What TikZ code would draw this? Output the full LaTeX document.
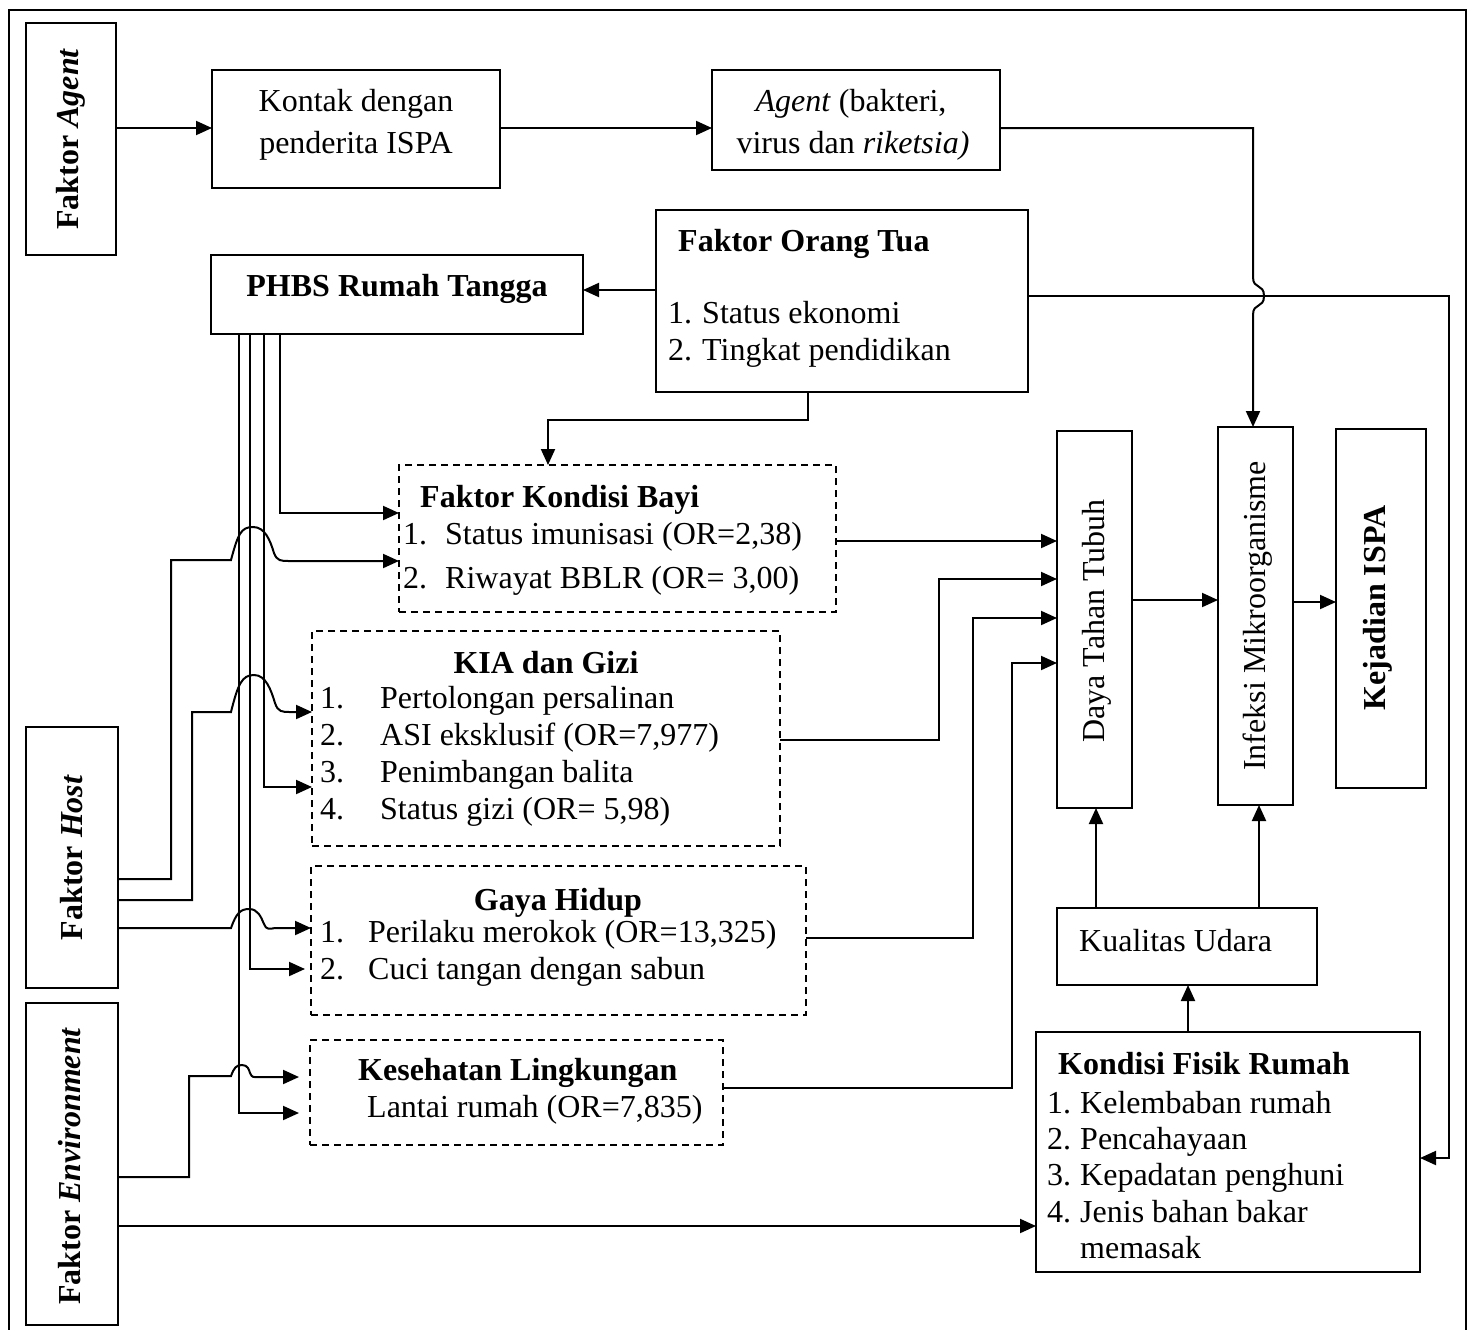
\documentclass[tikz,border=0pt]{standalone}
\usepackage{fontspec}
\setmainfont{Liberation Serif}
\usetikzlibrary{arrows.meta}
\newcommand\bigfs{\fontsize{32}{37}\selectfont}
\begin{document}
\begin{tikzpicture}[x=1pt,y=-1pt,
  box/.style={draw, line width=2pt, inner sep=0pt, outer sep=0pt},
  dbox/.style={box, line width=1.8pt, dash pattern=on 7pt off 5pt},
  ln/.style={line width=2pt},
  arr/.style={line width=2pt, -{Triangle[length=16pt,width=14pt]}},
  txt/.style={inner sep=0pt, font=\bigfs},
  bl/.style={txt, anchor=base west},
  bc/.style={txt, anchor=base}]
\useasboundingbox (0,0) rectangle (1470,1330);
% outer frame
\draw[ln] (9,1330) -- (9,10) -- (1466,10) -- (1466,1330);
% boxes
\node[box, minimum width=90pt, minimum height=232pt] (agentF) at (71,139) {};
\node[box, minimum width=288pt, minimum height=118pt] (kontak) at (356,129) {};
\node[box, minimum width=288pt, minimum height=100pt] (agentB) at (856,120) {};
\node[box, minimum width=372pt, minimum height=79pt] (phbs) at (397,294.5) {};
\node[box, minimum width=372pt, minimum height=182pt] (ortu) at (842,301) {};
\node[dbox, minimum width=437pt, minimum height=147pt] (bayi) at (617.5,538.5) {};
\node[dbox, minimum width=468pt, minimum height=215pt] (kia) at (546,738.5) {};
\node[dbox, minimum width=495pt, minimum height=149pt] (gaya) at (558.5,940.5) {};
\node[dbox, minimum width=413pt, minimum height=105pt] (kesling) at (516.5,1092.5) {};
\node[box, minimum width=92pt, minimum height=261pt] (host) at (72,857.5) {};
\node[box, minimum width=92pt, minimum height=322pt] (env) at (72,1164) {};
\node[box, minimum width=75pt, minimum height=377pt] (daya) at (1094.5,619.5) {};
\node[box, minimum width=75pt, minimum height=378pt] (infeksi) at (1255.5,616) {};
\node[box, minimum width=90pt, minimum height=359pt] (kejadian) at (1381,608.5) {};
\node[box, minimum width=260pt, minimum height=77pt] (udara) at (1187,946.5) {};
\node[box, minimum width=384pt, minimum height=240pt] (fisik) at (1228,1152) {};
% rotated texts
\node[txt, rotate=90] (tAgentF) at (agentF) {\textbf{Faktor \textit{Agent}}};
\node[txt, rotate=90] (tHost) at (host) {\textbf{Faktor \textit{Host}}};
\node[txt, rotate=90] (tEnv) at (70,1166) {\textbf{Faktor \textit{Environment}}};
\node[txt, rotate=90] (tDaya) at (1097,621) {Daya Tahan Tubuh};
\node[txt, rotate=90] (tInf) at (1258,616) {Infeksi Mikroorganisme};
\node[txt, rotate=90] (tKej) at (1378,608) {\textbf{Kejadian ISPA}};
% top texts
\node[bc] (tK1) at (356,111) {Kontak dengan};
\node[bc] (tK2) at (356,153) {penderita ISPA};
\node[bc] (tA1) at (851,111) {\textit{Agent} (bakteri,};
\node[bc] (tA2) at (853,153) {virus dan \textit{riketsia)}};
\node[bc] (tP) at (397,296) {\textbf{PHBS Rumah Tangga}};
% orang tua
\node[bl] (tO0) at (678,251) {\textbf{Faktor Orang Tua}};
\node[bl] (tO1n) at (668,323) {1.};
\node[bl] (tO1) at (702,323) {Status ekonomi};
\node[bl] (tO2n) at (668,360) {2.};
\node[bl] (tO2) at (702,360) {Tingkat pendidikan};
% bayi
\node[bl] (tB0) at (420,507) {\textbf{Faktor Kondisi Bayi}};
\node[bl] (tB1n) at (403,544) {1.};
\node[bl] (tB1) at (445,544) {Status imunisasi (OR=2,38)};
\node[bl] (tB2n) at (403,588) {2.};
\node[bl] (tB2) at (445,588) {Riwayat BBLR (OR= 3,00)};
% kia
\node[bc] (tKI0) at (546,673) {\textbf{KIA dan Gizi}};
\node[bl] (tKI1n) at (320,708) {1.};
\node[bl] (tKI1) at (380,708) {Pertolongan persalinan};
\node[bl] (tKI2n) at (320,745) {2.};
\node[bl] (tKI2) at (380,745) {ASI eksklusif (OR=7,977)};
\node[bl] (tKI3n) at (320,782) {3.};
\node[bl] (tKI3) at (380,782) {Penimbangan balita};
\node[bl] (tKI4n) at (320,819) {4.};
\node[bl] (tKI4) at (380,819) {Status gizi (OR= 5,98)};
% gaya hidup
\node[bc] (tG0) at (558,910) {\textbf{Gaya Hidup}};
\node[bl] (tG1n) at (320,942) {1.};
\node[bl] (tG1) at (368,942) {Perilaku merokok (OR=13,325)};
\node[bl] (tG2n) at (320,979) {2.};
\node[bl] (tG2) at (368,979) {Cuci tangan dengan sabun};
% kesehatan lingkungan
\node[bl] (tL0) at (358,1080) {\textbf{Kesehatan Lingkungan}};
\node[bl] (tL1) at (367,1117) {Lantai rumah (OR=7,835)};
% kualitas udara
\node[bl] (tU) at (1079,951) {Kualitas Udara};
% kondisi fisik
\node[bl] (tF0) at (1058,1074) {\textbf{Kondisi Fisik Rumah}};
\node[bl] (tF1n) at (1047,1113) {1.};
\node[bl] (tF1) at (1080,1113) {Kelembaban rumah};
\node[bl] (tF2n) at (1047,1149) {2.};
\node[bl] (tF2) at (1080,1149) {Pencahayaan};
\node[bl] (tF3n) at (1047,1185) {3.};
\node[bl] (tF3) at (1080,1185) {Kepadatan penghuni};
\node[bl] (tF4n) at (1047,1222) {4.};
\node[bl] (tF4) at (1080,1222) {Jenis bahan bakar};
\node[bl] (tF5) at (1080,1258) {memasak};
% top connectors
\draw[arr] (agentF.east |- 0,128) -- (kontak.west |- 0,128);
\draw[arr] (kontak.east |- 0,128) -- (agentB.west |- 0,128);
\draw[arr] (agentB.east |- 0,128) -- (1253,128) -- (1253,277)
  .. controls (1253,290) and (1264,283) .. (1264,296)
  .. controls (1264,309) and (1253,302) .. (1253,315)
  -- (infeksi.north -| 1253,0);
% orang tua connectors
\draw[arr] (ortu.west |- 0,290) -- (phbs.east |- 0,290);
\draw[arr] (ortu.east |- 0,296) -| (1449,1158) -- (fisik.east |- 0,1158);
\draw[arr] (ortu.south -| 808,0) -- (808,420) -| (bayi.north -| 548,0);
% PHBS bundle
\draw[arr] (phbs.south -| 280,0) |- (bayi.west |- 0,513);
\draw[arr] (phbs.south -| 264,0) |- (kia.west |- 0,787);
\draw[arr, shorten >=6pt] (phbs.south -| 250,0) |- (gaya.west |- 0,969);
\draw[arr, shorten >=11pt] (phbs.south -| 239,0) |- (kesling.west |- 0,1113);
% host connectors
\draw[arr] (host.east |- 0,879) -| (171,560) -- (231,560)
  .. controls (238,534) and (241,527) .. (253,527)
  .. controls (265,527) and (270,540) .. (274,553)
  .. controls (277,561) and (281,561) .. (289,561)
  -- (bayi.west |- 0,561);
\draw[arr] (host.east |- 0,900) -| (192,712) -- (231,712)
  .. controls (238,684) and (242,675) .. (254,675)
  .. controls (266,675) and (271,690) .. (275,703)
  .. controls (278,712) and (282,712) .. (290,712)
  -- (kia.west |- 0,712);
\draw[arr] (host.east |- 0,928) -- (231,928)
  .. controls (236,914) and (240,909) .. (249,909)
  .. controls (258,909) and (261,917) .. (264,924)
  .. controls (266,930) and (270,929) .. (275,928)
  -- (gaya.west |- 0,928);
% environment connectors
\draw[arr, shorten >=11pt] (env.east |- 0,1177) -| (189,1076) -- (231,1076)
  .. controls (234,1068) and (236,1065) .. (242,1065)
  .. controls (248,1065) and (249,1070) .. (250,1073)
  .. controls (252,1078) and (254,1077) .. (258,1077)
  -- (kesling.west |- 0,1077);
\draw[arr] (env.east |- 0,1226) -- (fisik.west |- 0,1226);
% into daya tahan tubuh
\draw[arr] (bayi.east |- 0,541) -- (daya.west |- 0,541);
\draw[arr] (kia.east |- 0,740) -| (939,579) -- (daya.west |- 0,579);
\draw[arr] (gaya.east |- 0,938) -| (973,618) -- (daya.west |- 0,618);
\draw[arr] (kesling.east |- 0,1088) -| (1012,663) -- (daya.west |- 0,663);
% right chain
\draw[arr] (daya.east |- 0,600) -- (infeksi.west |- 0,600);
\draw[arr] (infeksi.east |- 0,602) -- (kejadian.west |- 0,602);
\draw[arr] (udara.north -| 1096,0) -- (daya.south -| 1096,0);
\draw[arr] (udara.north -| 1259,0) -- (infeksi.south -| 1259,0);
\draw[arr] (fisik.north -| 1188,0) -- (udara.south -| 1188,0);
\end{tikzpicture}
\end{document}
